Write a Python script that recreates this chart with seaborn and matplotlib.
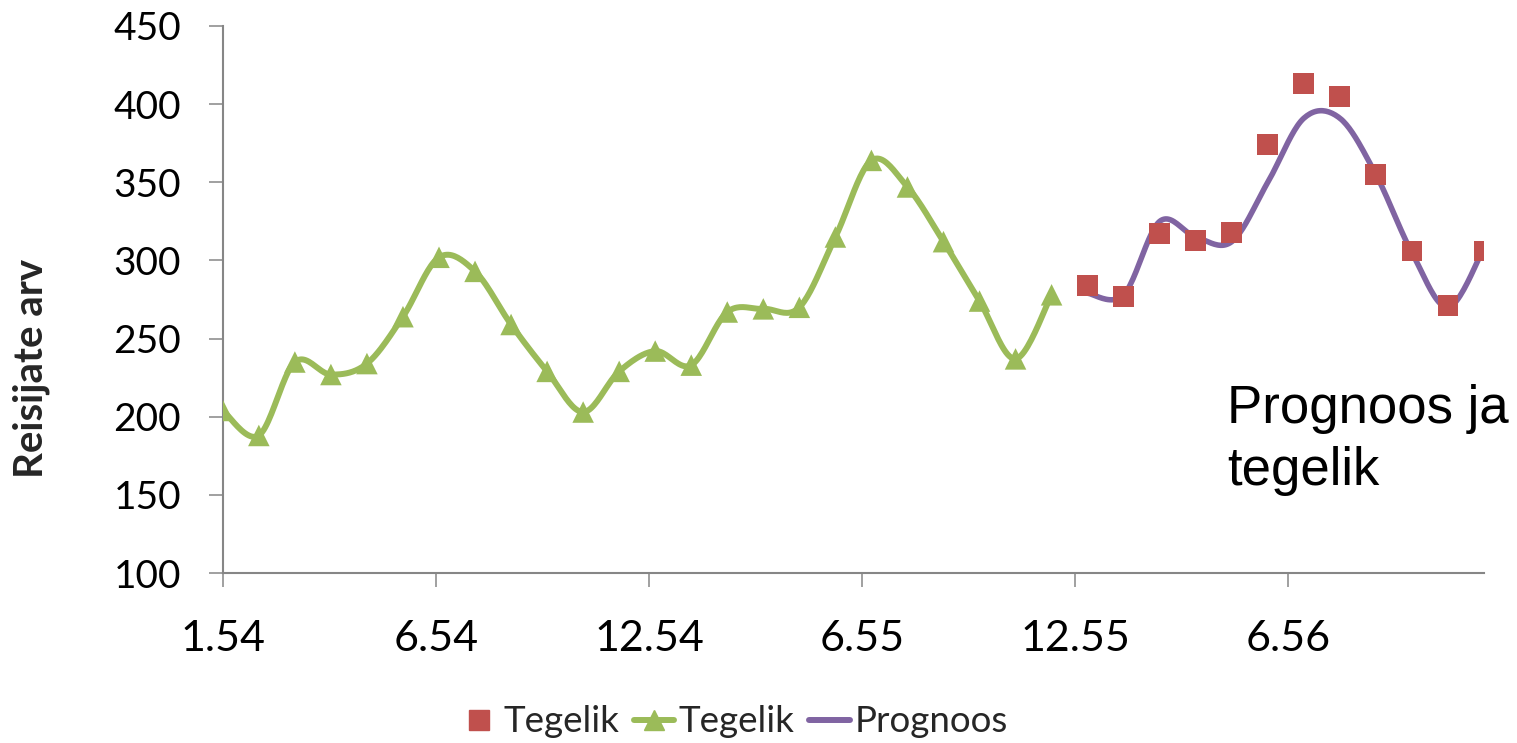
import numpy as np
import pandas as pd
import matplotlib
matplotlib.use("Agg")
import matplotlib.pyplot as plt
from matplotlib.lines import Line2D
import seaborn as sns

# Monthly passenger counts
actual_history = [204, 188, 235, 227, 234, 264, 302, 293, 259, 229, 203, 229,
                  242, 233, 267, 269, 270, 315, 364, 347, 312, 274, 237, 278]
actual_recent = [284, 277, 317, 313, 318, 374, 413, 405, 355, 306, 271, 306]
forecast = [279, 278, 325, 315, 312, 350, 391, 391, 355, 305, 270, 308]
tick_labels = ["1.54", "6.54", "12.54", "6.55", "12.55", "6.56"]
y_ticks = [100, 150, 200, 250, 300, 350, 400, 450]

C_RED = "#C0504D"
C_GREEN = "#9BBB59"
C_PURPLE = "#8064A2"
C_AXIS = "#868686"


def smooth_curve(x, y, steps=24):
    """Piecewise cubic Bezier through every point (Catmull-Rom tangents)."""
    pts = np.column_stack([np.asarray(x, float), np.asarray(y, float)])
    n = len(pts)
    out = []
    t = np.linspace(0, 1, steps)[:, None]
    for i in range(n - 1):
        p0 = pts[i]
        p3 = pts[i + 1]
        prev = pts[max(i - 1, 0)]
        nxt = pts[min(i + 2, n - 1)]
        p1 = p0 + (p3 - prev) / 6.0
        p2 = p3 - (nxt - p0) / 6.0
        seg = ((1 - t) ** 3) * p0 + 3 * ((1 - t) ** 2) * t * p1 + 3 * (1 - t) * t ** 2 * p2 + t ** 3 * p3
        out.append(seg if i == 0 else seg[1:])
    seg = np.vstack(out)
    return seg[:, 0], seg[:, 1]


x_hist = np.arange(len(actual_history))
x_recent = np.arange(len(actual_history), len(actual_history) + len(actual_recent))

hist_df = pd.DataFrame({"x": x_hist, "y": actual_history})
recent_df = pd.DataFrame({"x": x_recent, "y": actual_recent})
fx, fy = smooth_curve(x_recent, forecast)
fc_df = pd.DataFrame({"x": fx, "y": fy})
hx, hy = smooth_curve(x_hist, actual_history)
hs_df = pd.DataFrame({"x": hx, "y": hy})

sns.set_theme(style="white")
plt.rcParams["font.family"] = ["Lato", "DejaVu Sans"]

fig = plt.figure(figsize=(15.17, 7.43), dpi=100)
ax = fig.add_axes([222.8 / 1517, 1 - 573 / 743, (1484 - 222.8) / 1517, (573 - 26) / 743])

sns.lineplot(data=hs_df, x="x", y="y", ax=ax, color=C_GREEN, linewidth=4.3,
             sort=False, estimator=None, zorder=3)
sns.scatterplot(data=hist_df, x="x", y="y", ax=ax, marker="^", s=15.5 ** 2,
                color=C_GREEN, edgecolor="none", linewidth=0, zorder=4)
sns.lineplot(data=fc_df, x="x", y="y", ax=ax, color=C_PURPLE, linewidth=4.0,
             sort=False, estimator=None, zorder=3)
sns.scatterplot(data=recent_df, x="x", y="y", ax=ax, marker="s", s=15 ** 2,
                color=C_RED, edgecolor="none", linewidth=0, zorder=5)

n_total = len(actual_history) + len(actual_recent) - 1
ax.set_xlim(0, n_total)
ax.set_ylim(y_ticks[0], y_ticks[-1])

tick_step = n_total / 5.918
ax.set_xticks(np.arange(len(tick_labels)) * tick_step)
ax.set_xticklabels(tick_labels)
ax.set_yticks(y_ticks)
ax.set_yticklabels([str(v) for v in y_ticks])

ax.set_xlabel("")
ax.set_ylabel("")
for side in ["top", "right"]:
    ax.spines[side].set_visible(False)
for side in ["left", "bottom"]:
    ax.spines[side].set_color(C_AXIS)
    ax.spines[side].set_linewidth(1.5)

ax.tick_params(axis="y", which="major", direction="out", length=10, width=1.1,
               color=C_AXIS, labelsize=28, pad=20, left=True, labelcolor="black")
ax.tick_params(axis="x", which="major", direction="out", length=10, width=1.1,
               color=C_AXIS, labelsize=31, pad=24, bottom=True, labelcolor="black")
ax.grid(False)

fig.text(31 / 1517, 1 - 368 / 743, "Reisijate arv", rotation=90, ha="center",
         va="center", fontsize=29, fontweight="bold", family=["Lato", "DejaVu Sans"])

fig.text(1227 / 1517, 1 - 384 / 743, "Prognoos ja\ntegelik", ha="left", va="top",
         fontsize=38, linespacing=1.32, family=["Liberation Sans", "DejaVu Sans"],
         color="black")

handles = [
    Line2D([], [], linestyle="none", marker="s", markersize=14, color=C_RED),
    Line2D([], [], color=C_GREEN, linewidth=4.3, marker="^", markersize=15),
    Line2D([], [], color=C_PURPLE, linewidth=4.3),
]
fig.legend(handles, ["Tegelik", "Tegelik", "Prognoos"], loc="center",
           bbox_to_anchor=(733 / 1517, 1 - 722 / 743), ncol=3, frameon=False,
           fontsize=26.5, handlelength=1.1, handletextpad=0.12, columnspacing=0.4,
           borderpad=0, borderaxespad=0)

fig.savefig("out.png", dpi=100, facecolor="white")
